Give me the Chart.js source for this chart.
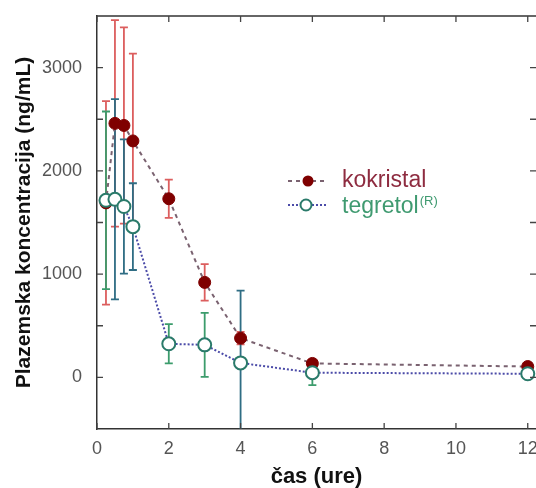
<!DOCTYPE html>
<html><head><meta charset="utf-8">
<script src="https://cdn.jsdelivr.net/npm/chart.js@4"></script>
<style>html,body{margin:0;padding:0;background:#fff;}#wrap{width:536px;height:488px;position:relative;}</style>
</head><body><div id="wrap"><canvas id="c" width="536" height="488"></canvas></div>
<script>
// ---- data ----
const times = [0.25, 0.5, 0.75, 1, 2, 3, 4, 6, 12];
const kokristalMean = [1690, 2460, 2440, 2290, 1730, 920, 380, 135, 105];
const kokristalSD   = [985, 1000, 950, 845, 185, 177, 60, 40, 30];
const tegretolMean  = [1715, 1725, 1655, 1460, 325, 315, 140, 45, 35];
const tegretolSD    = [860, 970, 650, 420, 190, 310, 700, 120, 30];
const xTickValues = [0, 2, 4, 6, 8, 10, 12];
const yLabelValues = [0, 1000, 2000, 3000];
const yMinorValues = [0, 500, 1000, 1500, 2000, 2500, 3000];
const seriesNames = ['kokristal', 'tegretol'];

// ---- styles ----
const FONT = "'Liberation Sans', Arial, sans-serif";
const kokBarColor = '#dc5e5e';
const tegBarColors = ['#3c9c6c', '#2f6d84', '#2f6d84', '#2f6d84', '#3c9c6c', '#3c9c6c', '#2f6d84', '#3c9c6c', '#3c9c6c'];

const errorBars = {
  id: 'errorBars',
  beforeDatasetsDraw(chart) {
    const {ctx, chartArea: a, scales: {x, y}} = chart;
    ctx.save();
    ctx.beginPath(); ctx.rect(a.left, a.top, a.right - a.left, a.bottom - a.top); ctx.clip();
    const groups = [
      {mean: kokristalMean, sd: kokristalSD, color: () => kokBarColor},
      {mean: tegretolMean, sd: tegretolSD, color: i => tegBarColors[i]}
    ];
    ctx.lineWidth = 1.8;
    for (const g of groups) {
      times.forEach((t, i) => {
        const px = x.getPixelForValue(t);
        const pt = y.getPixelForValue(g.mean[i] + g.sd[i]);
        const pb = y.getPixelForValue(g.mean[i] - g.sd[i]);
        ctx.strokeStyle = g.color(i);
        ctx.beginPath();
        ctx.moveTo(px, pt); ctx.lineTo(px, pb);
        ctx.moveTo(px - 4, pt); ctx.lineTo(px + 4, pt);
        ctx.moveTo(px - 4, pb); ctx.lineTo(px + 4, pb);
        ctx.stroke();
      });
    }
    ctx.restore();
  }
};

const frame = {
  id: 'frame',
  afterDraw(chart) {
    const {ctx, chartArea: a, scales: {x, y}} = chart;
    ctx.save();
    ctx.strokeStyle = '#333';
    ctx.lineWidth = 1.5;
    ctx.beginPath();
    ctx.moveTo(a.left, a.top); ctx.lineTo(a.right, a.top);
    ctx.stroke();
    ctx.strokeStyle = '#444';
    ctx.lineWidth = 1.3;
    ctx.beginPath();
    xTickValues.forEach(v => {
      const px = x.getPixelForValue(v);
      ctx.moveTo(px, a.bottom); ctx.lineTo(px, a.bottom - 6);
      ctx.moveTo(px, a.top); ctx.lineTo(px, a.top + 6);
    });
    yMinorValues.forEach(v => {
      const py = y.getPixelForValue(v);
      ctx.moveTo(a.left, py); ctx.lineTo(a.left + 6, py);
      ctx.moveTo(a.right, py); ctx.lineTo(a.right - 6, py);
    });
    ctx.stroke();

    // legend
    const lx = a.left + 191, ly1 = a.top + 165, ly2 = a.top + 189;
    ctx.lineWidth = 2;
    ctx.strokeStyle = '#7a6270'; ctx.setLineDash([4, 4]);
    ctx.beginPath(); ctx.moveTo(lx, ly1); ctx.lineTo(lx + 40, ly1); ctx.stroke();
    ctx.strokeStyle = '#4b4ba8'; ctx.setLineDash([2, 2]);
    ctx.beginPath(); ctx.moveTo(lx, ly2); ctx.lineTo(lx + 40, ly2); ctx.stroke();
    ctx.setLineDash([]);
    ctx.fillStyle = '#7f0000';
    ctx.beginPath(); ctx.arc(lx + 20, ly1, 5.5, 0, Math.PI * 2); ctx.fill();
    ctx.fillStyle = '#fff'; ctx.strokeStyle = '#2a7a6a';
    ctx.beginPath(); ctx.arc(lx + 18, ly2, 5.5, 0, Math.PI * 2); ctx.fill(); ctx.stroke();
    ctx.textBaseline = 'middle';
    ctx.font = '23px ' + FONT;
    ctx.fillStyle = '#8e2c40';
    ctx.fillText(seriesNames[0], lx + 54, ly1);
    ctx.fillStyle = '#3f9a70';
    ctx.fillText(seriesNames[1], lx + 54, ly2 + 2);
    const w = ctx.measureText(seriesNames[1]).width;
    ctx.font = '13px ' + FONT;
    ctx.fillText('(R)', lx + 55 + w, ly2 - 4);
    ctx.restore();
  }
};

new Chart(document.getElementById('c'), {
  type: 'line',
  data: {
    datasets: [
      {
        label: seriesNames[0],
        data: times.map((t, i) => ({x: t, y: kokristalMean[i]})),
        borderColor: '#7a6270', borderWidth: 2, borderDash: [4, 4],
        pointRadius: 6, pointBackgroundColor: '#7f0000', pointBorderColor: '#7f0000', pointBorderWidth: 1,
        fill: false, tension: 0, order: 2
      },
      {
        label: seriesNames[1],
        data: times.map((t, i) => ({x: t, y: tegretolMean[i]})),
        borderColor: '#4b4ba8', borderWidth: 2, borderDash: [2, 2],
        pointRadius: 6.5, pointBackgroundColor: '#ffffff', pointBorderColor: '#2a7a6a', pointBorderWidth: 2,
        fill: false, tension: 0, order: 1
      }
    ]
  },
  options: {
    responsive: false,
    animation: false,
    layout: {autoPadding: false, padding: {top: 16, right: 0, left: 0, bottom: 0}},
    plugins: {legend: {display: false}, tooltip: {enabled: false}},
    scales: {
      x: {
        type: 'linear', min: 0, max: 12.23,
        grid: {display: false, drawTicks: false},
        border: {display: true, color: '#333', width: 1.5},
        afterBuildTicks: s => { s.ticks = xTickValues.map(v => ({value: v})); },
        afterFit: s => { s.height = 59; s.paddingRight = 0; s.paddingLeft = 0; },
        ticks: {color: '#555', font: {family: FONT, size: 18}, padding: 9, maxRotation: 0, autoSkip: false,
                callback: v => String(v)},
        title: {display: true, text: 'čas (ure)', color: '#111', font: {family: FONT, size: 22, weight: 'bold', lineHeight: 1.0}, padding: {top: 4, bottom: 0}}
      },
      y: {
        type: 'linear', min: -500, max: 3500,
        grid: {display: false, drawTicks: false},
        border: {display: true, color: '#333', width: 1.5},
        afterBuildTicks: s => { s.ticks = yLabelValues.map(v => ({value: v})); },
        afterFit: s => { s.width = 97; s.paddingTop = 0; s.paddingBottom = 0; },
        ticks: {color: '#555', font: {family: FONT, size: 18}, padding: 15, autoSkip: false,
                callback: v => String(v)},
        title: {display: true, text: 'Plazemska koncentracija (ng/mL)', color: '#111', font: {family: FONT, size: 21, weight: 'bold'}, padding: {top: 12, bottom: 0}}
      }
    }
  },
  plugins: [errorBars, frame]
});
</script></body></html>
